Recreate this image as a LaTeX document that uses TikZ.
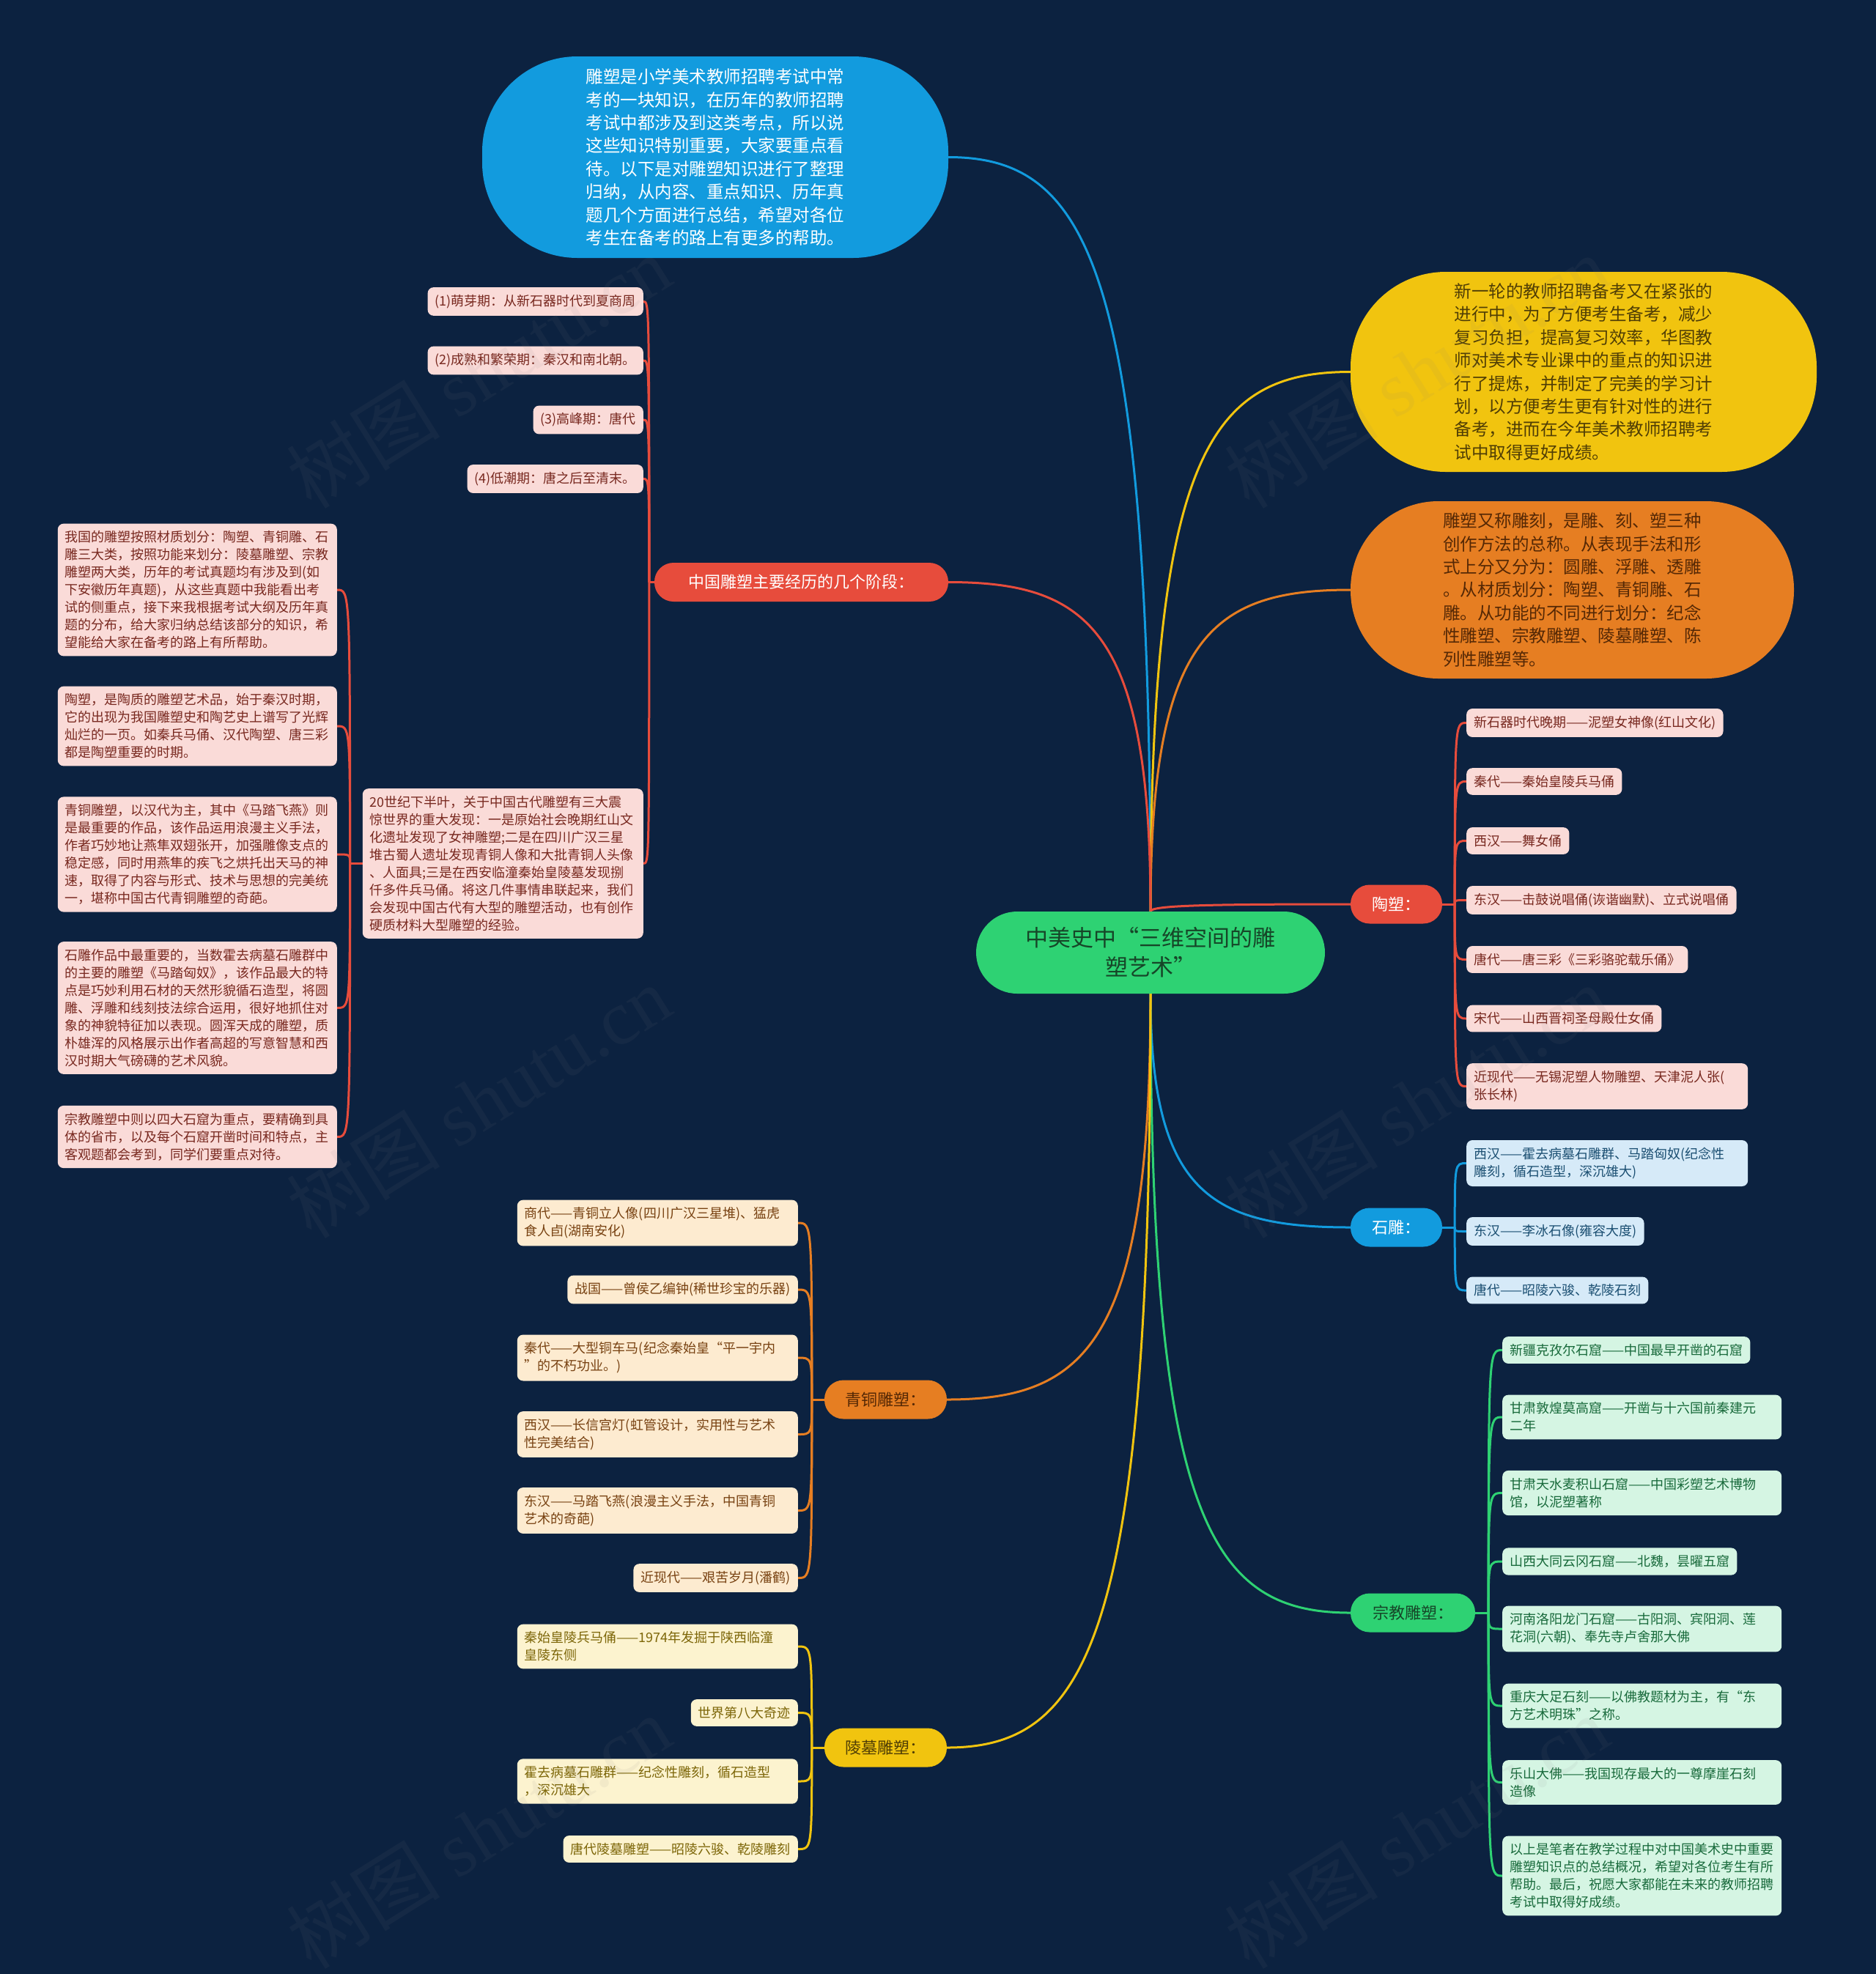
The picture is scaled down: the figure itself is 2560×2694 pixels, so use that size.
\documentclass[tikz,border=0pt]{standalone}
\usepackage{fontspec}
\setmainfont{Noto Sans CJK SC}
\newfontfamily\wmserif{Liberation Serif}
\usetikzlibrary{calc}
\pgfdeclarelayer{back}
\pgfsetlayers{back,main}
\definecolor{bgc}{RGB}{12,34,64}
\definecolor{cgreen}{RGB}{46,210,115}
\definecolor{cblue}{RGB}{18,155,222}
\definecolor{cyellow}{RGB}{241,196,15}
\definecolor{corange}{RGB}{230,126,34}
\definecolor{cred}{RGB}{231,76,60}
\definecolor{pinkf}{RGB}{250,219,216}
\definecolor{pinkt}{RGB}{120,40,31}
\definecolor{lbluef}{RGB}{214,234,248}
\definecolor{lbluet}{RGB}{27,79,114}
\definecolor{lorangef}{RGB}{253,235,208}
\definecolor{lorangett}{RGB}{120,66,18}
\definecolor{lyellowf}{RGB}{252,243,207}
\definecolor{lyellowt}{RGB}{125,102,8}
\definecolor{lgreenf}{RGB}{213,245,227}
\definecolor{lgreent}{RGB}{24,106,59}
\definecolor{ctext}{RGB}{22,70,40}
\definecolor{ytext}{RGB}{80,62,5}
\definecolor{otext}{RGB}{85,40,5}
\newcommand\mainlink[3]{\draw[#1,line width=3pt] (#2) .. controls ($(#2)!0.85!(#2|-#3)$) and ($(#2|-#3)!0.3!(#3)$) .. (#3);}
\newcommand\sublink[3]{\draw[#1,line width=3pt] (#2) .. controls (#2|-#3) and (#2|-#3) .. (#3);}
\begin{document}
\begin{tikzpicture}[x=1pt,y=-1pt,
  every node/.style={inner sep=0pt},
  bignode/.style={align=left, font=\fontsize{23.5}{31.4}\selectfont},
  branch/.style={rounded corners=26pt, minimum height=53pt, font=\fontsize{22}{26}\selectfont},
  kid/.style={rounded corners=8pt, inner xsep=10pt, inner ysep=10pt, align=left, font=\fontsize{18}{24}\selectfont},
  pinkkid/.style={kid, fill=pinkf, text=pinkt},
  bluekid/.style={kid, fill=lbluef, text=lbluet},
  orangekid/.style={kid, fill=lorangef, text=lorangett},
  yellowkid/.style={kid, fill=lyellowf, text=lyellowt},
  greenkid/.style={kid, fill=lgreenf, text=lgreent},
  wm/.style={text=gray, opacity=0.08, font=\fontsize{105}{105}\selectfont, rotate=32}]
\begin{pgfonlayer}{back}
\fill[bgc] (0,0) rectangle (2560,2694);
\end{pgfonlayer}
\useasboundingbox (0,0) rectangle (2560,2694);

% central
\node[fill=cgreen, rounded corners=56pt, minimum width=476pt, minimum height=112pt, align=center, text=ctext, font=\fontsize{31}{40}\selectfont] (c) at (1570,1300) {中美史中“三维空间的雕\\塑艺术”};

% big nodes
\node[bignode, fill=cblue, text=white, rounded corners=130pt, minimum width=636pt, minimum height=275pt] (n1) at (976,214.5) {雕塑是小学美术教师招聘考试中常\\考的一块知识，在历年的教师招聘\\考试中都涉及到这类考点，所以说\\这些知识特别重要，大家要重点看\\待。以下是对雕塑知识进行了整理\\归纳，从内容、重点知识、历年真\\题几个方面进行总结，希望对各位\\考生在备考的路上有更多的帮助。};
\node[bignode, fill=cyellow, text=ytext, rounded corners=130pt, minimum width=636pt, minimum height=273pt] (n2) at (2161,507.5) {新一轮的教师招聘备考又在紧张的\\进行中，为了方便考生备考，减少\\复习负担，提高复习效率，华图教\\师对美术专业课中的重点的知识进\\行了提炼，并制定了完美的学习计\\划，以方便考生更有针对性的进行\\备考，进而在今年美术教师招聘考\\试中取得更好成绩。};
\node[bignode, fill=corange, text=otext, rounded corners=120pt, minimum width=605pt, minimum height=242pt] (n3) at (2145.5,805) {雕塑又称雕刻，是雕、刻、塑三种\\创作方法的总称。从表现手法和形\\式上分又分为：圆雕、浮雕、透雕\\。从材质划分：陶塑、青铜雕、石\\雕。从功能的不同进行划分：纪念\\性雕塑、宗教雕塑、陵墓雕塑、陈\\列性雕塑等。};

% branches
\node[branch, fill=cred, text=white, minimum width=401pt] (b1) at (1093.5,794.5) {中国雕塑主要经历的几个阶段：};
\node[branch, fill=cred, text=white, minimum width=125pt] (b2) at (1905.5,1234) {陶塑：};
\node[branch, fill=cblue, text=white, minimum width=125pt] (b3) at (1905.5,1675) {石雕：};
\node[branch, fill=cgreen, text=ctext, minimum width=170pt] (b4) at (1928,2201) {宗教雕塑：};
\node[branch, fill=corange, text=otext, minimum width=167pt] (b5) at (1208.5,1910) {青铜雕塑：};
\node[branch, fill=cyellow, text=ytext, minimum width=167pt] (b6) at (1208.5,2385) {陵墓雕塑：};

% stages
\node[pinkkid, anchor=east] (s1) at (878,411.5) {(1)萌芽期：从新石器时代到夏商周};
\node[pinkkid, anchor=east] (s2) at (878,492) {(2)成熟和繁荣期：秦汉和南北朝。};
\node[pinkkid, anchor=east] (s3) at (878,573) {(3)高峰期：唐代};
\node[pinkkid, anchor=east] (s4) at (878,653.5) {(4)低潮期：唐之后至清末。};
\node[pinkkid, anchor=east, text width=363pt] (s5) at (878,1178.5) {20世纪下半叶，关于中国古代雕塑有三大震\\惊世界的重大发现：一是原始社会晚期红山文\\化遗址发现了女神雕塑;二是在四川广汉三星\\堆古蜀人遗址发现青铜人像和大批青铜人头像\\、人面具;三是在西安临潼秦始皇陵墓发现捌\\仟多件兵马俑。将这几件事情串联起来，我们\\会发现中国古代有大型的雕塑活动，也有创作\\硬质材料大型雕塑的经验。};

% left texts
\node[pinkkid, anchor=east, text width=361pt] (t1) at (460,805) {我国的雕塑按照材质划分：陶塑、青铜雕、石\\雕三大类，按照功能来划分：陵墓雕塑、宗教\\雕塑两大类，历年的考试真题均有涉及到(如\\下安徽历年真题)，从这些真题中我能看出考\\试的侧重点，接下来我根据考试大纲及历年真\\题的分布，给大家归纳总结该部分的知识，希\\望能给大家在备考的路上有所帮助。};
\node[pinkkid, anchor=east, text width=361pt] (t2) at (460,991) {陶塑，是陶质的雕塑艺术品，始于秦汉时期，\\它的出现为我国雕塑史和陶艺史上谱写了光辉\\灿烂的一页。如秦兵马俑、汉代陶塑、唐三彩\\都是陶塑重要的时期。};
\node[pinkkid, anchor=east, text width=361pt] (t3) at (460,1166) {青铜雕塑，以汉代为主，其中《马踏飞燕》则\\是最重要的作品，该作品运用浪漫主义手法，\\作者巧妙地让燕隼双翅张开，加强雕像支点的\\稳定感，同时用燕隼的疾飞之烘托出天马的神\\速，取得了内容与形式、技术与思想的完美统\\一，堪称中国古代青铜雕塑的奇葩。};
\node[pinkkid, anchor=east, text width=361pt] (t4) at (460,1375.5) {石雕作品中最重要的，当数霍去病墓石雕群中\\的主要的雕塑《马踏匈奴》，该作品最大的特\\点是巧妙利用石材的天然形貌循石造型，将圆\\雕、浮雕和线刻技法综合运用，很好地抓住对\\象的神貌特征加以表现。圆浑天成的雕塑，质\\朴雄浑的风格展示出作者高超的写意智慧和西\\汉时期大气磅礴的艺术风貌。};
\node[pinkkid, anchor=east, text width=361pt] (t5) at (460,1551.5) {宗教雕塑中则以四大石窟为重点，要精确到具\\体的省市，以及每个石窟开凿时间和特点，主\\客观题都会考到，同学们要重点对待。};

% pottery
\node[pinkkid, anchor=west] (p1) at (2001,986.5) {新石器时代晚期——泥塑女神像(红山文化)};
\node[pinkkid, anchor=west] (p2) at (2001,1066.5) {秦代——秦始皇陵兵马俑};
\node[pinkkid, anchor=west] (p3) at (2001,1147.5) {西汉——舞女俑};
\node[pinkkid, anchor=west] (p4) at (2001,1228.5) {东汉——击鼓说唱俑(诙谐幽默)、立式说唱俑};
\node[pinkkid, anchor=west] (p5) at (2001,1309.5) {唐代——唐三彩《三彩骆驼载乐俑》};
\node[pinkkid, anchor=west] (p6) at (2001,1390) {宋代——山西晋祠圣母殿仕女俑};
\node[pinkkid, anchor=west, text width=364pt] (p7) at (2001,1482.5) {近现代——无锡泥塑人物雕塑、天津泥人张(\\张长林)};

% stone
\node[bluekid, anchor=west, text width=364pt] (r1) at (2001,1587.5) {西汉——霍去病墓石雕群、马踏匈奴(纪念性\\雕刻，循石造型，深沉雄大)};
\node[bluekid, anchor=west] (r2) at (2001,1680.5) {东汉——李冰石像(雍容大度)};
\node[bluekid, anchor=west] (r3) at (2001,1761) {唐代——昭陵六骏、乾陵石刻};

% religion
\node[greenkid, anchor=west] (g1) at (2050,1842.5) {新疆克孜尔石窟——中国最早开凿的石窟};
\node[greenkid, anchor=west, text width=361pt] (g2) at (2050,1934) {甘肃敦煌莫高窟——开凿与十六国前秦建元\\二年};
\node[greenkid, anchor=west, text width=361pt] (g3) at (2050,2037.5) {甘肃天水麦积山石窟——中国彩塑艺术博物\\馆，以泥塑著称};
\node[greenkid, anchor=west] (g4) at (2050,2131) {山西大同云冈石窟——北魏，昙曜五窟};
\node[greenkid, anchor=west, text width=361pt] (g5) at (2050,2223) {河南洛阳龙门石窟——古阳洞、宾阳洞、莲\\花洞(六朝)、奉先寺卢舍那大佛};
\node[greenkid, anchor=west, text width=361pt] (g6) at (2050,2328) {重庆大足石刻——以佛教题材为主，有“东\\方艺术明珠”之称。};
\node[greenkid, anchor=west, text width=361pt] (g7) at (2050,2432.5) {乐山大佛——我国现存最大的一尊摩崖石刻\\造像};
\node[greenkid, anchor=west, text width=361pt] (g8) at (2050,2560) {以上是笔者在教学过程中对中国美术史中重要\\雕塑知识点的总结概况，希望对各位考生有所\\帮助。最后，祝愿大家都能在未来的教师招聘\\考试中取得好成绩。};

% bronze
\node[orangekid, anchor=east, text width=363pt] (q1) at (1089,1669) {商代——青铜立人像(四川广汉三星堆)、猛虎\\食人卣(湖南安化)};
\node[orangekid, anchor=east] (q2) at (1089,1760) {战国——曾侯乙编钟(稀世珍宝的乐器)};
\node[orangekid, anchor=east, text width=363pt] (q3) at (1089,1853) {秦代——大型铜车马(纪念秦始皇“平一宇内\\”的不朽功业。)};
\node[orangekid, anchor=east, text width=363pt] (q4) at (1089,1957.5) {西汉——长信宫灯(虹管设计，实用性与艺术\\性完美结合)};
\node[orangekid, anchor=east, text width=363pt] (q5) at (1089,2061.5) {东汉——马踏飞燕(浪漫主义手法，中国青铜\\艺术的奇葩)};
\node[orangekid, anchor=east] (q6) at (1089,2153.5) {近现代——艰苦岁月(潘鹤)};

% tombs
\node[yellowkid, anchor=east, text width=363pt] (m1) at (1089,2247) {秦始皇陵兵马俑——1974年发掘于陕西临潼\\皇陵东侧};
\node[yellowkid, anchor=east] (m2) at (1089,2337.5) {世界第八大奇迹};
\node[yellowkid, anchor=east, text width=363pt] (m3) at (1089,2431) {霍去病墓石雕群——纪念性雕刻，循石造型\\，深沉雄大};
\node[yellowkid, anchor=east] (m4) at (1089,2523.5) {唐代陵墓雕塑——昭陵六骏、乾陵雕刻};

% bracket points
\coordinate (k1) at ($(b1.west)+(-7,0)$);
\coordinate (k1b) at ($(s5.west)+(-17,0)$);
\coordinate (k2) at ($(b2.east)+(17,0)$);
\coordinate (k3) at ($(b3.east)+(17,0)$);
\coordinate (k4) at ($(b4.east)+(18,0)$);
\coordinate (k5) at ($(b5.west)+(-17,0)$);
\coordinate (k6) at ($(b6.west)+(-17,0)$);

\begin{pgfonlayer}{back}
\mainlink{cblue}{c.north}{n1.east}
\mainlink{cyellow}{c.north}{n2.west}
\mainlink{corange}{c.north}{n3.west}
\mainlink{cred}{c.north}{b1.east}
\mainlink{cred}{c.north}{b2.west}
\mainlink{cblue}{c.south}{b3.west}
\mainlink{cgreen}{c.south}{b4.west}
\mainlink{corange}{c.south}{b5.east}
\mainlink{cyellow}{c.south}{b6.east}

\draw[cred, line width=3pt] (b1.west) -- (k1);
\foreach \k in {s1,s2,s3,s4,s5} {\sublink{cred}{k1}{\k.east}}
\draw[cred, line width=3pt] (s5.west) -- (k1b);
\foreach \k in {t1,t2,t3,t4,t5} {\sublink{cred}{k1b}{\k.east}}
\draw[cred, line width=3pt] (b2.east) -- (k2);
\foreach \k in {p1,p2,p3,p4,p5,p6,p7} {\sublink{cred}{k2}{\k.west}}
\draw[cblue, line width=3pt] (b3.east) -- (k3);
\foreach \k in {r1,r2,r3} {\sublink{cblue}{k3}{\k.west}}
\draw[cgreen, line width=3pt] (b4.east) -- (k4);
\foreach \k in {g1,g2,g3,g4,g5,g6,g7,g8} {\sublink{cgreen}{k4}{\k.west}}
\draw[corange, line width=3pt] (b5.west) -- (k5);
\foreach \k in {q1,q2,q3,q4,q5,q6} {\sublink{corange}{k5}{\k.east}}
\draw[cyellow, line width=3pt] (b6.west) -- (k6);
\foreach \k in {m1,m2,m3,m4} {\sublink{cyellow}{k6}{\k.east}}
\end{pgfonlayer}

% watermarks
\node[wm] (w1) at (653,507) {树图 {\wmserif shutu.cn}};
\node[wm] (w2) at (1933,507) {树图 {\wmserif shutu.cn}};
\node[wm] (w3) at (653,1503) {树图 {\wmserif shutu.cn}};
\node[wm] (w4) at (1933,1503) {树图 {\wmserif shutu.cn}};
\node[wm] (w5) at (653,2500) {树图 {\wmserif shutu.cn}};
\node[wm] (w6) at (1933,2500) {树图 {\wmserif shutu.cn}};
\end{tikzpicture}
\end{document}
